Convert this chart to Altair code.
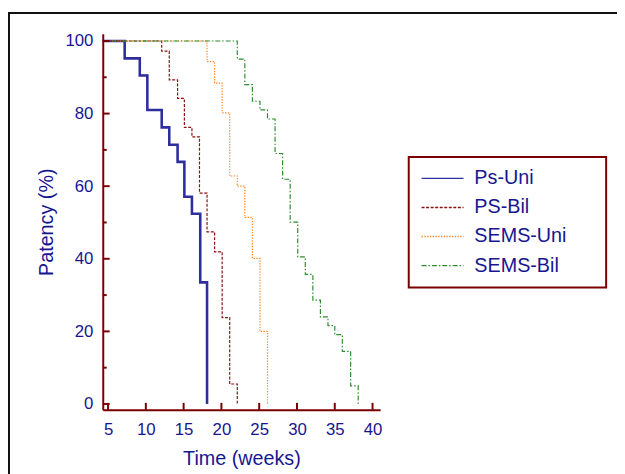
import altair as alt
import pandas as pd

# ---- data ----
series_names = ["Ps-Uni", "PS-Bil", "SEMS-Uni", "SEMS-Bil"]

ps_uni_t = [0, 7.2, 9.2, 10.2, 12.1, 13.1, 14.2, 15.1, 16.1, 17.2, 18.1]
ps_uni_v = [100, 95.2, 90.5, 81.0, 76.2, 71.4, 66.7, 57.1, 52.4, 33.5, 0]

ps_bil_t = [0, 12.1, 13.1, 14.2, 15.1, 16.1, 17.1, 18.1, 19.1, 20.1, 21.1, 22.1]
ps_bil_v = [100, 97.2, 89.3, 84.2, 76.2, 73.6, 58.1, 47.4, 41.9, 23.8, 5.5, 0]

sems_uni_t = [0, 18.1, 19.1, 20.1, 21.1, 22.1, 23.1, 24.1, 25.1, 26.1]
sems_uni_v = [100, 94.3, 88.4, 80.2, 62.8, 60.0, 51.4, 40.1, 20.0, 0]

sems_bil_t = [0, 22.1, 23.1, 24.1, 25.1, 26.1, 27.1, 28.1, 29.1, 30.1, 31.1,
              32.1, 33.1, 34.1, 35.0, 36.0, 37.1, 38.1]
sems_bil_v = [100, 95.0, 88.0, 83.4, 81.0, 78.5, 69.0, 61.9, 50.1, 40.5, 35.7,
              28.6, 24.0, 21.6, 19.1, 14.5, 5.0, 0]

x_ticks = [5, 10, 15, 20, 25, 30, 35, 40]
y_ticks_major = [0, 20, 40, 60, 80, 100]
y_ticks_minor = [10, 30, 50, 70, 90]

# ---- styles ----
colors = ["#2e2e9e", "#8b1010", "#ff8a24", "#2e8b2e"]
dashes = [[1, 0], [3, 1.6], [1.4, 1.4], [5, 2, 1.5, 2]]
AXIS_RED = "#7a0000"
NAVY = "#161690"
FONT = "Liberation Sans"
PAD_TAIL = " " * 5 + "\u200b"   # widens the legend box (not trimmed)

W, H = 281, 381
x_dom = [4.3, 41.0]
y_dom = [-1.6, 102.0]

rows = []
for name, ts, vs in zip(series_names,
                        [ps_uni_t, ps_bil_t, sems_uni_t, sems_bil_t],
                        [ps_uni_v, ps_bil_v, sems_uni_v, sems_bil_v]):
    for t, v in zip(ts, vs):
        rows.append({"series": name, "time": t, "patency": v})
df = pd.DataFrame(rows)

xscale = alt.Scale(domain=x_dom, nice=False, zero=False)
yscale = alt.Scale(domain=y_dom, nice=False, zero=False)
xaxis = alt.Axis(values=x_ticks, title="Time (weeks)", titlePadding=11, labelPadding=12)
yaxis = alt.Axis(values=y_ticks_major, title="Patency (%)", titlePadding=9, labelPadding=10)

legend = alt.Legend(title=None, orient="none", legendX=310, legendY=125,
                    labelExpr="datum.label + '" + PAD_TAIL + "'")

# thick solid line for Ps-Uni (drawn underneath the others)
thick = alt.Chart(df).transform_filter(alt.datum.series == "Ps-Uni").mark_line(
    interpolate="step-after", clip=True, color=colors[0], strokeWidth=2.6).encode(
    x=alt.X("time:Q", scale=xscale, axis=xaxis),
    y=alt.Y("patency:Q", scale=yscale, axis=yaxis),
)

lines = alt.Chart(df).mark_line(interpolate="step-after", clip=True,
                                strokeWidth=1.2).encode(
    x=alt.X("time:Q", scale=xscale, axis=xaxis),
    y=alt.Y("patency:Q", scale=yscale, axis=yaxis),
    color=alt.Color("series:N",
                    scale=alt.Scale(domain=series_names, range=colors),
                    legend=legend),
    strokeDash=alt.StrokeDash("series:N",
                              scale=alt.Scale(domain=series_names, range=dashes),
                              legend=legend),
)

ymaj = alt.Chart(pd.DataFrame({"patency": y_ticks_major})).mark_rule(
    color=AXIS_RED, strokeWidth=2).encode(
    y=alt.Y("patency:Q", scale=yscale, axis=yaxis), x=alt.value(0), x2=alt.value(7))
ymin = alt.Chart(pd.DataFrame({"patency": y_ticks_minor})).mark_rule(
    color=AXIS_RED, strokeWidth=2).encode(
    y=alt.Y("patency:Q", scale=yscale, axis=yaxis), x=alt.value(0), x2=alt.value(4))
xt = alt.Chart(pd.DataFrame({"time": x_ticks})).mark_rule(
    color=AXIS_RED, strokeWidth=2).encode(
    x=alt.X("time:Q", scale=xscale, axis=xaxis), y=alt.value(H - 7), y2=alt.value(H))

frame = alt.Chart(alt.Data(values=[{"f": 1}])).mark_rect(
    fill=None, stroke="#111111", strokeWidth=2).encode(
    x=alt.value(-95), x2=alt.value(700), y=alt.value(-21), y2=alt.value(700))

base = alt.layer(frame, thick, lines, ymaj, ymin, xt).properties(
    width=W, height=H,
    background="white",
    autosize=alt.AutoSizeParams(type="none"),
    padding={"left": 96, "top": 23, "right": 240, "bottom": 62},
).configure_view(stroke=None).configure_axis(
    grid=False, ticks=False, tickSize=0,
    domainColor=AXIS_RED, domainWidth=2,
    labelFont=FONT, labelFontSize=17, labelColor=NAVY,
    titleFont=FONT, titleFontSize=20, titleColor=NAVY, titleFontWeight="normal",
)

legend_cfg = dict(
    symbolType="M-1,0H4", symbolSize=289, symbolStrokeWidth=1.4,
    labelOffset=35,
    labelFontSize=20, labelFont=FONT, labelColor=NAVY,
    rowPadding=9.5, padding=11.5,
    strokeColor=AXIS_RED,
)

try:
    chart = base.configure_legend(strokeWidth=2, **legend_cfg)
    chart.to_dict()
except Exception:
    chart = base.configure_legend(**legend_cfg)

chart.save("out.html", embed_options={"renderer": "svg", "actions": False})
